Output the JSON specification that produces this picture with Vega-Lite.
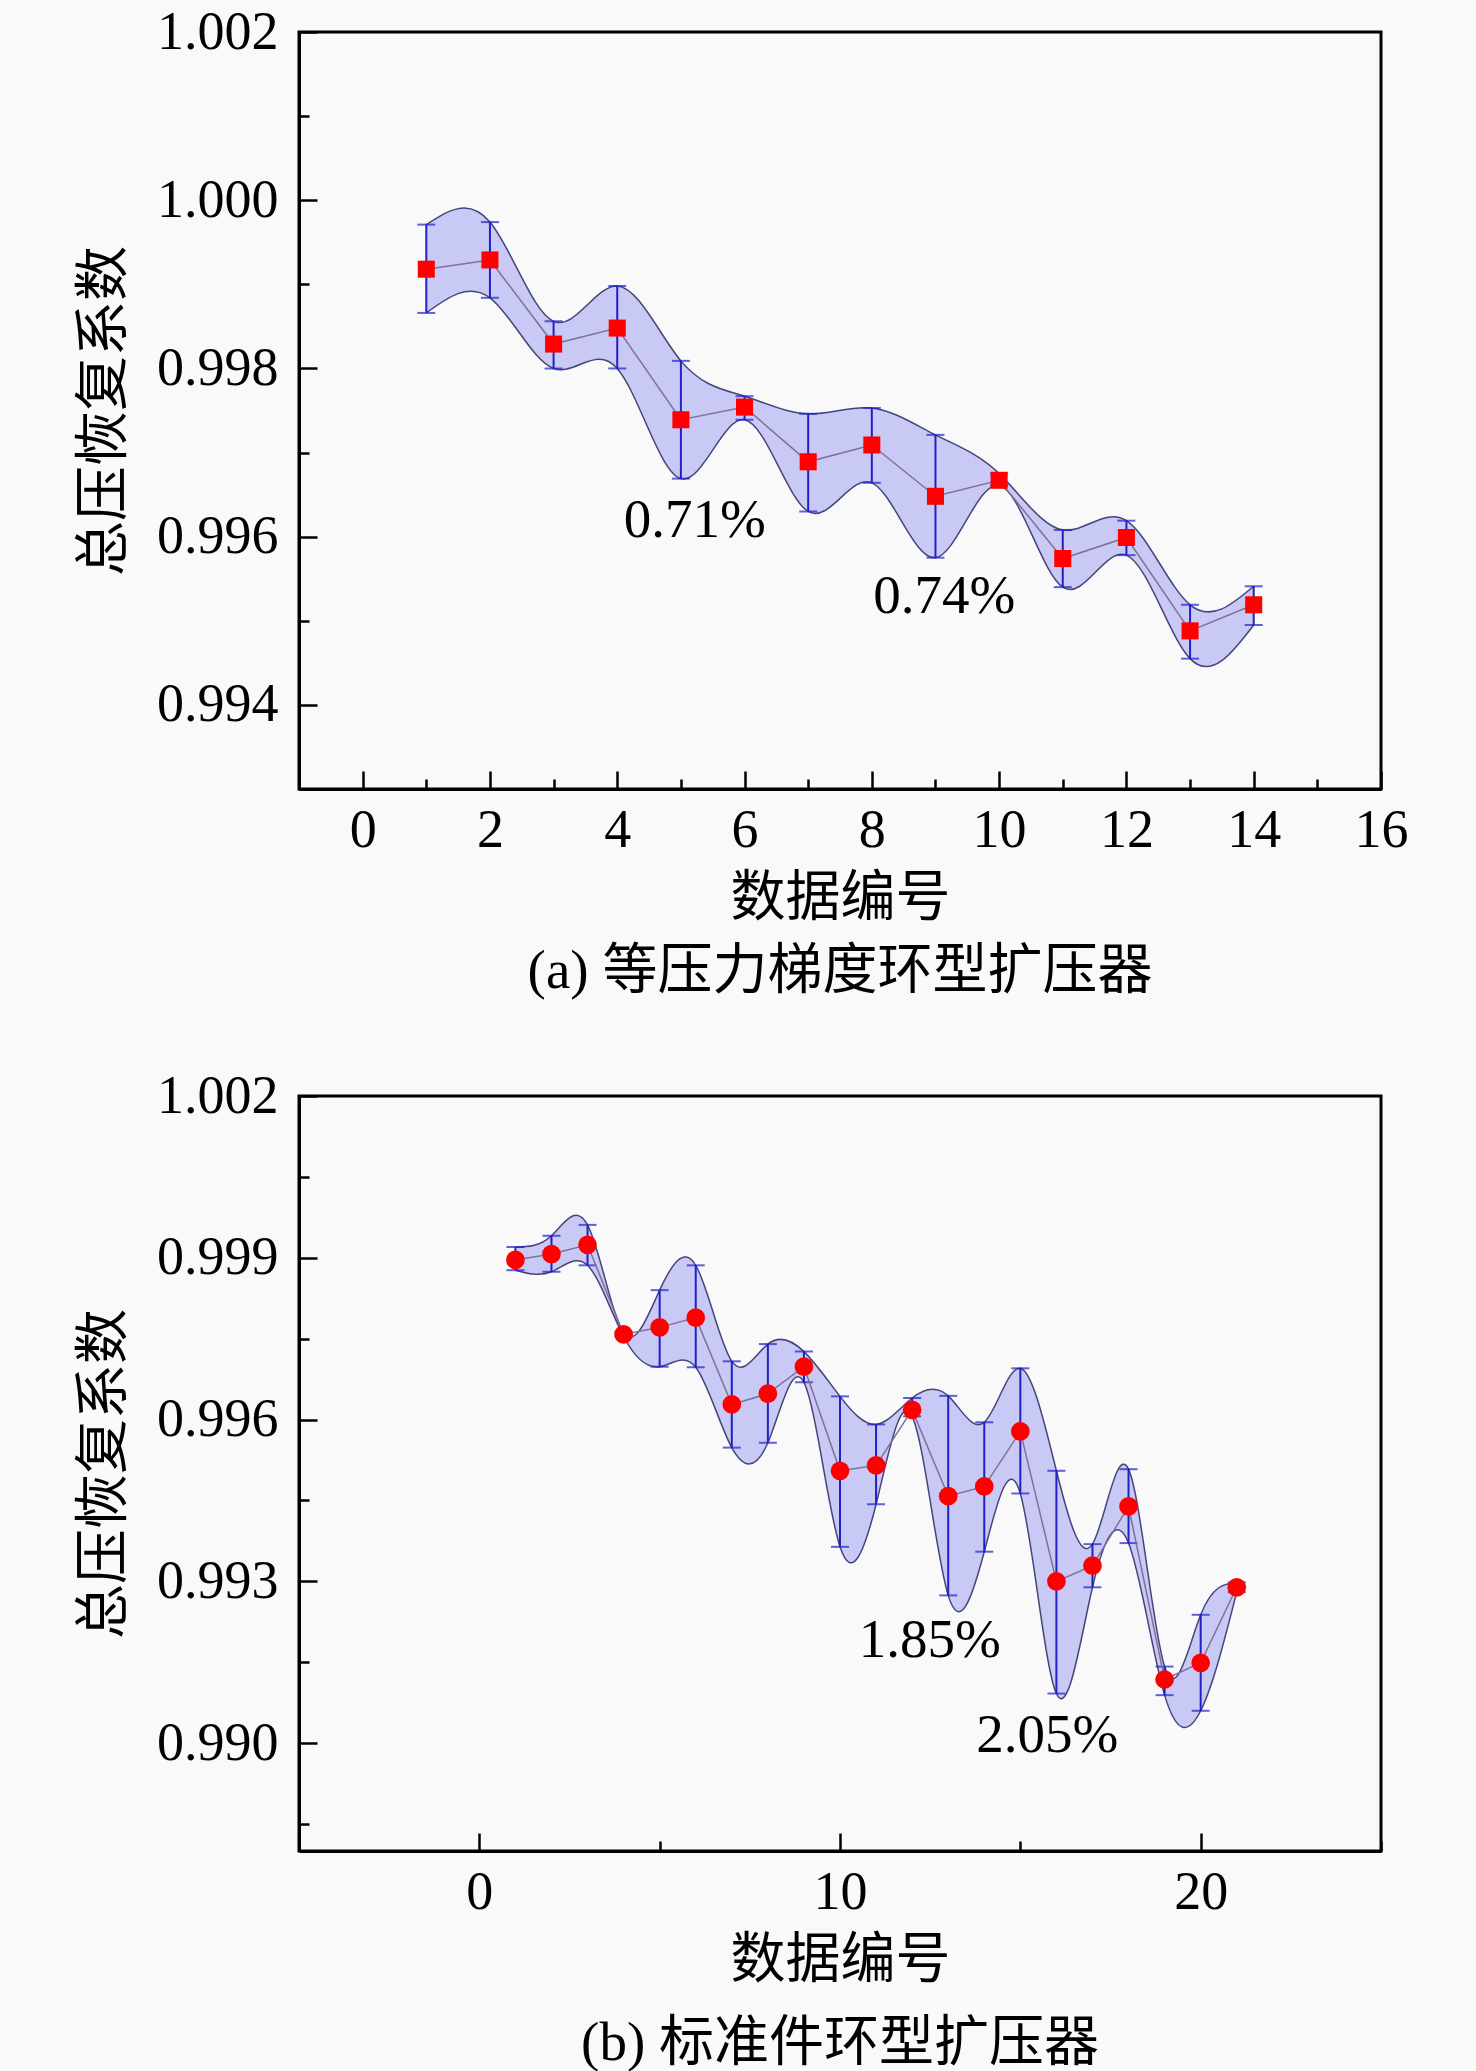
{
  "$schema": "https://vega.github.io/schema/vega-lite/v6.json",
  "background": "#f9f9f9",
  "padding": {"left": 75, "top": 3, "right": 69, "bottom": 3},
  "bounds": "flush",
  "spacing": 307,
  "config": {
    "view": {"stroke": "black", "strokeWidth": 3},
    "axis": {
      "grid": false,
      "domainColor": "black",
      "domainWidth": 3,
      "tickColor": "black",
      "tickWidth": 2.5,
      "labelFont": "Liberation Serif",
      "labelFontSize": 54,
      "labelColor": "black",
      "titleFont": "Liberation Serif, Noto Sans CJK SC",
      "titleFontSize": 55,
      "titleFontWeight": "normal",
      "titleColor": "black",
      "labelOverlap": false,
      "labelFlush": false
    },
    "title": {"font": "Liberation Serif, Noto Sans CJK SC", "fontSize": 55, "fontWeight": "normal", "color": "black"}
  },
  "datasets": {
    "a": [
      {"id": 1, "v": 0.99918, "lo": 0.99866, "hi": 0.99971},
      {"id": 2, "v": 0.99929, "lo": 0.99884, "hi": 0.99974},
      {"id": 3, "v": 0.99829, "lo": 0.99800, "hi": 0.99856},
      {"id": 4, "v": 0.99848, "lo": 0.99800, "hi": 0.99898},
      {"id": 5, "v": 0.99739, "lo": 0.99669, "hi": 0.99809},
      {"id": 6, "v": 0.99754, "lo": 0.99739, "hi": 0.99767},
      {"id": 7, "v": 0.99689, "lo": 0.99630, "hi": 0.99746},
      {"id": 8, "v": 0.99709, "lo": 0.99664, "hi": 0.99753},
      {"id": 9, "v": 0.99648, "lo": 0.99575, "hi": 0.99721},
      {"id": 10, "v": 0.99667, "lo": 0.99661, "hi": 0.99675},
      {"id": 11, "v": 0.99574, "lo": 0.99540, "hi": 0.99608},
      {"id": 12, "v": 0.99599, "lo": 0.99578, "hi": 0.99619},
      {"id": 13, "v": 0.99488, "lo": 0.99455, "hi": 0.99519},
      {"id": 14, "v": 0.99519, "lo": 0.99495, "hi": 0.99541}
    ],
    "b": [
      {"id": 1, "v": 0.99896, "lo": 0.99877, "hi": 0.99920},
      {"id": 2, "v": 0.99907, "lo": 0.99874, "hi": 0.99941},
      {"id": 3, "v": 0.99924, "lo": 0.99886, "hi": 0.99961},
      {"id": 4, "v": 0.99758, "lo": 0.99754, "hi": 0.99762},
      {"id": 5, "v": 0.99771, "lo": 0.99698, "hi": 0.99840},
      {"id": 6, "v": 0.99789, "lo": 0.99697, "hi": 0.99886},
      {"id": 7, "v": 0.99628, "lo": 0.99548, "hi": 0.99708},
      {"id": 8, "v": 0.99648, "lo": 0.99557, "hi": 0.99740},
      {"id": 9, "v": 0.99698, "lo": 0.99669, "hi": 0.99726},
      {"id": 10, "v": 0.99505, "lo": 0.99364, "hi": 0.99643},
      {"id": 11, "v": 0.99515, "lo": 0.99443, "hi": 0.99591},
      {"id": 12, "v": 0.99618, "lo": 0.99606, "hi": 0.99640},
      {"id": 13, "v": 0.99458, "lo": 0.99274, "hi": 0.99644},
      {"id": 14, "v": 0.99476, "lo": 0.99355, "hi": 0.99595},
      {"id": 15, "v": 0.99578, "lo": 0.99463, "hi": 0.99695},
      {"id": 16, "v": 0.99300, "lo": 0.99092, "hi": 0.99505},
      {"id": 17, "v": 0.99329, "lo": 0.99289, "hi": 0.99369},
      {"id": 18, "v": 0.99439, "lo": 0.99371, "hi": 0.99508},
      {"id": 19, "v": 0.99118, "lo": 0.99089, "hi": 0.99142},
      {"id": 20, "v": 0.99149, "lo": 0.99060, "hi": 0.99238},
      {"id": 21, "v": 0.99289, "lo": 0.99280, "hi": 0.99298}
    ],
    "notesA": [
      {"x": 5.22, "y": 0.99620, "label": "0.71%"},
      {"x": 9.14, "y": 0.99529, "label": "0.74%"}
    ],
    "notesB": [
      {"x": 12.49, "y": 0.99192, "label": "1.85%"},
      {"x": 15.75, "y": 0.99016, "label": "2.05%"}
    ]
  },
  "vconcat": [
    {
      "width": 1082,
      "height": 757,
      "title": {"text": "(a) 等压力梯度环型扩压器", "orient": "bottom", "offset": 20},
      "data": {"name": "a"},
      "encoding": {
        "x": {
          "field": "id", "type": "quantitative", "title": "数据编号",
          "scale": {"domain": [-1, 16], "nice": false, "zero": false},
          "axis": {
            "values": [-1, 0, 1, 2, 3, 4, 5, 6, 7, 8, 9, 10, 11, 12, 13, 14, 15, 16],
            "labelExpr": "datum.value % 2 == 0 ? datum.label : ''",
            "tickSize": {"condition": {"test": "datum.value % 2 == 0", "value": -18}, "value": -10},
            "labelPadding": 32,
            "titlePadding": 6
          }
        },
        "y": {
          "field": "v", "type": "quantitative", "title": "总压恢复系数",
          "scale": {"domain": [0.993, 1.002], "nice": false, "zero": false},
          "axis": {
            "values": [0.993, 0.994, 0.995, 0.996, 0.997, 0.998, 0.999, 1.0, 1.001, 1.002],
            "labelExpr": "round(datum.value * 1000) % 2 == 0 ? format(datum.value, '.3f') : ''",
            "tickSize": {"condition": {"test": "round(datum.value * 1000) % 2 == 0", "value": -18}, "value": -10},
            "labelPadding": 39,
            "titlePadding": 24
          }
        }
      },
      "layer": [
        {"mark": {"type": "area", "interpolate": "natural", "fill": "#c9c9f6", "opacity": 1},
         "encoding": {"y": {"field": "lo", "type": "quantitative", "title": "总压恢复系数"}, "y2": {"field": "hi"}}},
        {"mark": {"type": "line", "interpolate": "natural", "stroke": "#45457a", "strokeWidth": 1.5},
         "encoding": {"y": {"field": "hi", "type": "quantitative", "title": "总压恢复系数"}}},
        {"mark": {"type": "line", "interpolate": "natural", "stroke": "#45457a", "strokeWidth": 1.5},
         "encoding": {"y": {"field": "lo", "type": "quantitative", "title": "总压恢复系数"}}},
        {"mark": {"type": "rule", "stroke": "#2020c8", "strokeWidth": 2},
         "encoding": {"y": {"field": "lo", "type": "quantitative", "title": "总压恢复系数"}, "y2": {"field": "hi"}}},
        {"mark": {"type": "tick", "orient": "horizontal", "size": 18, "thickness": 2, "color": "#2020c8"},
         "encoding": {"y": {"field": "lo", "type": "quantitative", "title": "总压恢复系数"}}},
        {"mark": {"type": "tick", "orient": "horizontal", "size": 18, "thickness": 2, "color": "#2020c8"},
         "encoding": {"y": {"field": "hi", "type": "quantitative", "title": "总压恢复系数"}}},
        {"mark": {"type": "line", "stroke": "#80709a", "strokeWidth": 1.5}, "encoding": {}},
        {"mark": {"type": "point", "shape": "square", "filled": true, "color": "#ff0000", "size": 290, "opacity": 1}, "encoding": {}},
        {"data": {"name": "notesA"},
         "mark": {"type": "text", "font": "Liberation Serif", "fontSize": 55, "color": "black"},
         "encoding": {
           "x": {"field": "x", "type": "quantitative", "title": "数据编号"},
           "y": {"field": "y", "type": "quantitative", "title": "总压恢复系数"},
           "text": {"field": "label"}
         }}
      ]
    },
    {
      "width": 1082,
      "height": 755,
      "title": {"text": "(b) 标准件环型扩压器", "orient": "bottom", "offset": 30},
      "data": {"name": "b"},
      "encoding": {
        "x": {
          "field": "id", "type": "quantitative", "title": "数据编号",
          "scale": {"domain": [-5, 25], "nice": false, "zero": false},
          "axis": {
            "values": [-5, 0, 5, 10, 15, 20, 25],
            "labelExpr": "datum.value % 10 == 0 ? datum.label : ''",
            "tickSize": {"condition": {"test": "datum.value % 10 == 0", "value": -18}, "value": -10},
            "labelPadding": 32,
            "titlePadding": 6
          }
        },
        "y": {
          "field": "v", "type": "quantitative", "title": "总压恢复系数",
          "scale": {"domain": [0.988, 1.002], "nice": false, "zero": false},
          "axis": {
            "values": [0.9885, 0.99, 0.9915, 0.993, 0.9945, 0.996, 0.9975, 0.999, 1.0005, 1.002],
            "labelExpr": "abs(datum.value * 1000 - round(datum.value * 1000)) < 0.1 ? format(datum.value, '.3f') : ''",
            "tickSize": {"condition": {"test": "abs(datum.value * 1000 - round(datum.value * 1000)) < 0.1", "value": -18}, "value": -10},
            "labelPadding": 39,
            "titlePadding": 24
          }
        }
      },
      "layer": [
        {"mark": {"type": "area", "interpolate": "natural", "fill": "#c9c9f6", "opacity": 1},
         "encoding": {"y": {"field": "lo", "type": "quantitative", "title": "总压恢复系数"}, "y2": {"field": "hi"}}},
        {"mark": {"type": "line", "interpolate": "natural", "stroke": "#45457a", "strokeWidth": 1.5},
         "encoding": {"y": {"field": "hi", "type": "quantitative", "title": "总压恢复系数"}}},
        {"mark": {"type": "line", "interpolate": "natural", "stroke": "#45457a", "strokeWidth": 1.5},
         "encoding": {"y": {"field": "lo", "type": "quantitative", "title": "总压恢复系数"}}},
        {"mark": {"type": "rule", "stroke": "#2020c8", "strokeWidth": 2},
         "encoding": {"y": {"field": "lo", "type": "quantitative", "title": "总压恢复系数"}, "y2": {"field": "hi"}}},
        {"mark": {"type": "tick", "orient": "horizontal", "size": 18, "thickness": 2, "color": "#2020c8"},
         "encoding": {"y": {"field": "lo", "type": "quantitative", "title": "总压恢复系数"}}},
        {"mark": {"type": "tick", "orient": "horizontal", "size": 18, "thickness": 2, "color": "#2020c8"},
         "encoding": {"y": {"field": "hi", "type": "quantitative", "title": "总压恢复系数"}}},
        {"mark": {"type": "line", "stroke": "#80709a", "strokeWidth": 1.5}, "encoding": {}},
        {"mark": {"type": "point", "shape": "circle", "filled": true, "color": "#ff0000", "size": 350, "opacity": 1}, "encoding": {}},
        {"data": {"name": "notesB"},
         "mark": {"type": "text", "font": "Liberation Serif", "fontSize": 55, "color": "black"},
         "encoding": {
           "x": {"field": "x", "type": "quantitative", "title": "数据编号"},
           "y": {"field": "y", "type": "quantitative", "title": "总压恢复系数"},
           "text": {"field": "label"}
         }}
      ]
    }
  ]
}
